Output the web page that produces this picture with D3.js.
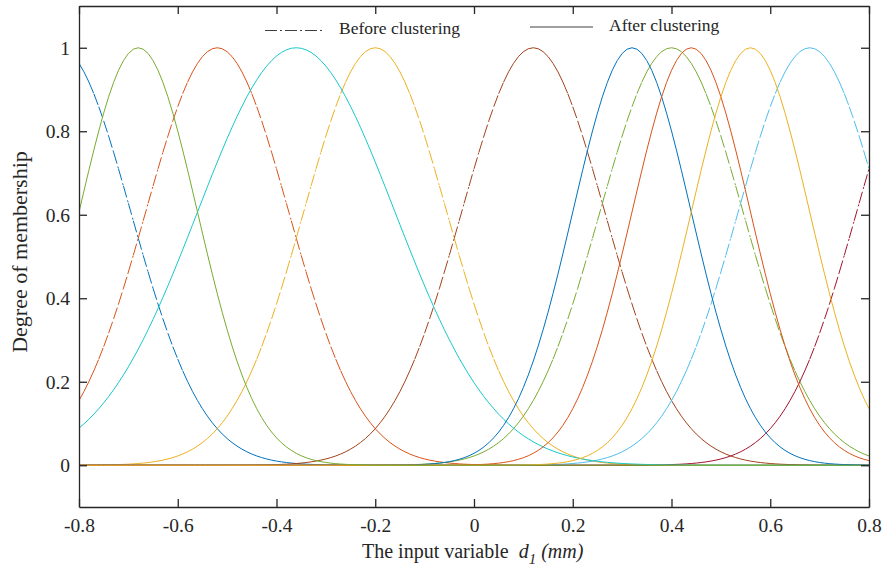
<!DOCTYPE html>
<html>
<head>
<meta charset="utf-8">
<script src="https://cdn.jsdelivr.net/npm/d3@7"></script>
<style>
    body { margin: 0; background: #fff; }
    text { font-family: "Liberation Serif", "Times New Roman", serif; fill: #262626; }
    .axis path, .axis line { stroke: #262626; stroke-width: 1.3; }
</style>
</head>
<body>
<div id="chart"></div>
<script>

// gaussian membership functions before clustering (dash-dot lines)
const beforeCenters = [-0.84, -0.52, -0.20, 0.12, 0.40, 0.68, 0.92];
const beforeSigmas  = [0.145, 0.145, 0.145, 0.145, 0.145, 0.145, 0.145];

// after clustering (solid lines)
const afterCenters = [-0.36, 0.32, 0.44, 0.56, -0.68];
const afterSigmas  = [0.20, 0.12, 0.12, 0.12, 0.12];

const xTicks = [-0.8, -0.6, -0.4, -0.2, 0, 0.2, 0.4, 0.6, 0.8];
const yTicks = [0, 0.2, 0.4, 0.6, 0.8, 1];
const legendLabels = ["Before clustering", "After clustering"];

const beforeColors = ["#0072BD", "#D95319", "#EDB120", "#A2411A", "#77AC30", "#4DBEEE", "#A2142F"];
const afterColors  = ["#17C9C9", "#0072BD", "#D95319", "#EDB120", "#77AC30"];

const dashDot = "12,3,2,3";

let margin = {top: 6, right: 17, bottom: 64, left: 79};
let width = 886 - margin.left - margin.right;
let height = 571 - margin.top - margin.bottom;

let svg = d3.select("#chart").append("svg")
    .attr("width", 886)
    .attr("height", 571);

let g = svg.append("g")
    .attr("transform", `translate(${margin.left}, ${margin.top})`);

// scales
let xScale = d3.scaleLinear().domain([-0.8, 0.8]).range([0, width]);
let yScale = d3.scaleLinear().domain([-0.1, 1.1]).range([height, 0]);

g.append("defs").append("clipPath")
    .attr("id", "clip")
    .append("rect")
    .attr("width", width)
    .attr("height", height);

// input samples, step 0.01 like the original plot
let xs = d3.range(-80, 81).map(i => i / 100);
let gauss = (c, s) => xs.map(x => ({x: x, y: Math.exp(-((x - c) ** 2) / (2 * s * s))}));

let line = d3.line()
    .x(d => xScale(d.x))
    .y(d => yScale(d.y));

// every sample step is its own subpath so the dash pattern restarts,
// which keeps the flat parts looking solid as in the original figure
let segmented = pts => d3.pairs(pts).map(p => line(p)).join("");

let curves = g.append("g").attr("clip-path", "url(#clip)");

// dashed first, solid on top
beforeCenters.forEach((c, i) => {
    curves.append("path")
        .attr("fill", "none")
        .attr("stroke", beforeColors[i])
        .attr("stroke-width", 1)
        .attr("stroke-dasharray", dashDot)
        .attr("d", segmented(gauss(c, beforeSigmas[i])));
});

afterCenters.forEach((c, i) => {
    curves.append("path")
        .datum(gauss(c, afterSigmas[i]))
        .attr("fill", "none")
        .attr("stroke", afterColors[i])
        .attr("stroke-width", 1)
        .attr("d", line);
});

// axes, ticks inward on every side
let fmt = d => String(d);

g.append("g")
    .attr("class", "axis")
    .attr("transform", `translate(0, ${height})`)
    .call(d3.axisBottom(xScale).tickValues(xTicks).tickFormat(fmt).tickSizeInner(-8).tickSizeOuter(0).tickPadding(11))
    .call(a => a.selectAll("text").attr("font-size", "19.5px").attr("font-family", null).attr("fill", "#262626"));

g.append("g")
    .attr("class", "axis")
    .call(d3.axisLeft(yScale).tickValues(yTicks).tickFormat(fmt).tickSizeInner(-8).tickSizeOuter(0).tickPadding(9))
    .call(a => a.selectAll("text").attr("font-size", "19.5px").attr("font-family", null).attr("fill", "#262626"));

g.append("g")
    .attr("class", "axis")
    .call(d3.axisTop(xScale).tickValues(xTicks).tickFormat("").tickSizeInner(-8).tickSizeOuter(0));

g.append("g")
    .attr("class", "axis")
    .attr("transform", `translate(${width}, 0)`)
    .call(d3.axisRight(yScale).tickValues(yTicks).tickFormat("").tickSizeInner(-8).tickSizeOuter(0));

// legend
svg.append("line")
    .attr("x1", 265).attr("x2", 325).attr("y1", 30.5).attr("y2", 30.5)
    .attr("stroke", "#404040").attr("stroke-width", 1.2)
    .attr("stroke-dasharray", dashDot);
svg.append("text")
    .attr("x", 339).attr("y", 34)
    .attr("font-size", "17.5px")
    .text(legendLabels[0]);

svg.append("line")
    .attr("x1", 530).attr("x2", 593).attr("y1", 27).attr("y2", 27)
    .attr("stroke", "#404040").attr("stroke-width", 1.2);
svg.append("text")
    .attr("x", 609).attr("y", 30.5)
    .attr("font-size", "17.5px")
    .text(legendLabels[1]);

// axis titles
let xLabel = svg.append("text")
    .attr("x", 362).attr("y", 558)
    .attr("font-size", "20px");
xLabel.append("tspan").text("The input variable\u00a0\u00a0");
xLabel.append("tspan").attr("font-style", "italic").text("d");
xLabel.append("tspan").attr("font-style", "italic").attr("font-size", "15px").attr("dy", 6).text("1");
xLabel.append("tspan").attr("font-style", "italic").attr("dy", -6).text("\u00a0(mm)");

svg.append("text")
    .attr("transform", "translate(27, 252) rotate(-90)")
    .attr("text-anchor", "middle")
    .attr("font-size", "22px")
    .text("Degree of membership");

</script>
</body>
</html>
